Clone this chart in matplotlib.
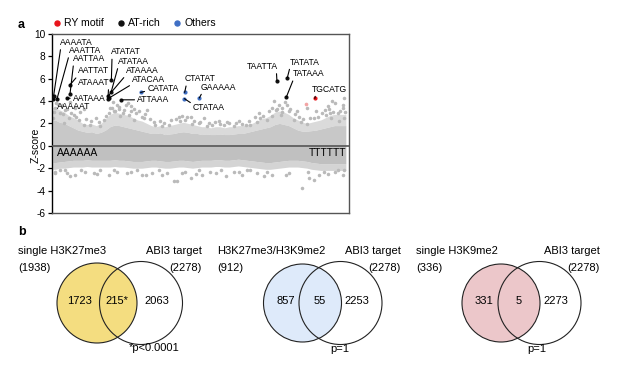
import matplotlib
matplotlib.use('Agg')
import matplotlib.pyplot as plt
from matplotlib.patches import Circle
from matplotlib.lines import Line2D

plt.rcParams['font.family'] = ['Liberation Sans', 'DejaVu Sans']
plt.rcParams['axes.unicode_minus'] = False

# ---------------- data: panel a ----------------
# hexamer cloud density envelope, read per 64-hexamer bin
band_idx = [0, 32, 96, 160, 224, 288, 352, 416, 480, 544, 608, 672, 736, 800, 864, 928, 992,
            1056, 1120, 1184, 1248, 1312, 1376, 1440, 1504, 1568, 1632, 1696, 1760, 1824,
            1888, 1952, 2016, 2080, 2144, 2208, 2272, 2336, 2400, 2464, 2528, 2592, 2656,
            2720, 2784, 2848, 2912, 2976, 3040, 3104, 3168, 3232, 3296, 3360, 3424, 3488,
            3552, 3616, 3680, 3744, 3808, 3872, 3936, 4000, 4064, 4095]
dense_top = [2.3, 2.3, 2.1, 2.0, 1.8, 1.6, 1.4, 1.3, 1.2, 1.25, 1.1, 1.2, 1.4, 1.7, 1.85, 1.8,
             1.7, 1.6, 1.5, 1.4, 1.3, 1.2, 1.1, 1.1, 1.15, 1.0, 1.05, 1.1, 1.2, 1.25, 1.2, 1.1,
             1.1, 1.0, 1.05, 1.0, 1.0, 1.05, 1.0, 1.0, 1.05, 1.1, 1.1, 1.2, 1.3, 1.4, 1.5,
             1.6, 1.7, 1.9, 2.0, 1.9, 1.8, 1.6, 1.4, 1.3, 1.3, 1.35, 1.4, 1.5, 1.6, 1.7,
             1.8, 1.8, 1.8, 1.8]
sparse_top = [3.4, 3.4, 3.2, 3.0, 2.7, 2.5, 2.3, 2.0, 1.9, 1.95, 1.8, 2.0, 2.4, 2.8, 3.0,
              2.9, 2.8, 2.7, 2.5, 2.3, 2.2, 2.0, 1.8, 1.7, 1.8, 1.7, 1.8, 1.9, 2.0, 2.1, 2.0,
              1.9, 1.8, 1.7, 1.7, 1.6, 1.7, 1.7, 1.6, 1.7, 1.7, 1.8, 1.8, 1.9, 2.0, 2.2, 2.4,
              2.5, 2.7, 3.0, 3.1, 3.0, 2.8, 2.5, 2.3, 2.1, 2.0, 2.1, 2.2, 2.3, 2.5, 2.7, 2.8,
              2.8, 2.8, 2.8]
dense_bot = [-1.5, -1.5, -1.45, -1.4, -1.35, -1.3, -1.3, -1.3, -1.25, -1.3, -1.3, -1.3, -1.3,
             -1.3, -1.25, -1.3, -1.3, -1.35, -1.4, -1.4, -1.4, -1.35, -1.3, -1.3, -1.35,
             -1.4, -1.4, -1.35, -1.3, -1.3, -1.35, -1.4, -1.35, -1.3, -1.3, -1.3, -1.25,
             -1.25, -1.3, -1.3, -1.25, -1.2, -1.25, -1.3, -1.35, -1.4, -1.45, -1.5, -1.5,
             -1.45, -1.4, -1.35, -1.3, -1.3, -1.3, -1.35, -1.4, -1.5, -1.55, -1.6, -1.6,
             -1.6, -1.6, -1.6, -1.6, -1.6]
sparse_bot = [-2.1, -2.1, -2.0, -2.0, -1.95, -1.9, -1.9, -1.9, -1.85, -1.9, -1.9, -1.9, -1.9,
              -1.9, -1.85, -1.9, -1.9, -1.95, -2.0, -2.0, -2.0, -1.95, -1.9, -1.9, -1.95,
              -2.0, -2.0, -1.95, -1.9, -1.9, -1.95, -2.0, -1.95, -1.9, -1.9, -1.9, -1.85,
              -1.85, -1.9, -1.9, -1.85, -1.8, -1.85, -1.9, -1.95, -2.0, -2.05, -2.1, -2.1,
              -2.05, -2.0, -1.95, -1.9, -1.9, -1.9, -1.95, -2.0, -2.1, -2.15, -2.2, -2.2,
              -2.2, -2.2, -2.2, -2.2, -2.2]

# individual hexamers outside / at the edge of the band
bg_idx = [34, 104, 174, 10, 220, 150, 290, 360, 431, 525, 665, 712, 782, 830, 876, 946, 993,
          1063, 1133, 1203, 1273, 1321, 1087, 900, 48, 132, 244, 315, 441, 848, 932, 1045, 1129,
          104, 244, 315, 455, 571, 665, 782, 900, 1040, 1181, 1297, 34, 174,
          1807, 1877, 1925, 2112, 1433, 1620, 1784, 2041, 2228, 2322, 2463, 2603, 2697, 1526,
          1947, 2158, 2392, 2533,
          1386, 1526, 1690, 1737, 1807, 1925, 2041, 2088, 2276, 2416, 2533, 2649, 2720, 1480,
          3090, 3160, 3113, 3207, 3277, 3301, 3183, 3066, 2996, 2902, 2856, 2762, 3371, 3464,
          3558, 3652, 3674, 3839, 3815, 3885, 3979, 4049, 4073, 4003, 3417, 3558, 4073, 3895,
          4059, 3871,
          2762, 2950, 3066, 3253, 3488, 3582, 3652, 3792, 3979, 4073, 3722,
          20, 80, 140, 200, 260, 330, 380, 470, 540, 600, 650,
          740, 800, 860, 920, 980, 1020, 1100, 1160, 1240, 1290, 1360,
          1420, 1500, 1560, 1650, 1720, 1760, 1850, 1980, 2060,
          2180, 2260, 2340, 2440, 2560, 2640, 2740,
          2820, 2880, 2940, 3020, 3060, 3140, 3200, 3240, 3320, 3380, 3440, 3500,
          3600, 3700, 3760, 3800, 3860, 3920, 3950, 4020, 4080,
          30, 200, 400, 620, 850, 1100, 1250, 1600, 1850, 2000, 2200, 2350, 2600, 2850, 3000,
          3300, 3560, 3850, 3950, 4060]
bg_z = [3.36, 2.92, 3.21, 2.47, 2.47, 2.02, 2.77, 2.32, 1.83, 1.87, 1.78, 2.32, 2.92, 3.36, 3.07,
        2.62, 3.21, 2.77, 2.32, 3.07, 2.47, 3.21, 3.51, 3.66, 3.8, 3.6, 3.9, 3.4, 3.3, 3.9, 3.5,
        3.8, 3.3,
        -2.15, -2.74, -2.59, -2.3, -2.45, -2.15, -2.59, -2.3, -2.45, -2.15, -2.59, -2.45, -2.2,
        2.62, 2.53, 2.53, 2.47, 1.83, 1.87, 2.17, 2.02, 1.87, 2.17, 2.02, 2.17, 1.83, 1.78,
        1.93, 1.78, 1.83, 1.78,
        -2.45, -2.59, -3.13, -3.13, -2.45, -2.9, -2.15, -2.59, -2.45, -2.74, -2.3, -2.59, -2.15,
        -2.15,
        3.96, 3.66, 3.21, 3.36, 3.66, 3.07, 2.77, 2.62, 2.32, 2.47, 2.12, 1.88, 2.32, 2.12,
        1.97, 2.47, 3.07, 3.51, 2.77, 2.47, 2.92, 3.36, 2.52, 2.22, 3.07, 3.36, 4.25, 4.0,
        3.66, 2.9,
        -2.15, -2.74, -2.59, -2.59, -3.78, -2.9, -3.04, -2.3, -2.15, -2.15, -2.59,
        3.0, 3.7, 2.8, 3.3, 2.9, 2.6, 3.0, 2.4, 2.2, 2.5, 2.1,
        2.7, 3.4, 3.1, 3.3, 2.9, 3.6, 3.1, 2.9, 2.6, 2.8, 2.4,
        2.1, 2.2, 2.0, 2.3, 2.4, 2.6, 2.3, 2.2, 2.1,
        2.0, 2.1, 1.95, 2.1, 2.0, 1.9, 2.2,
        2.6, 2.9, 2.7, 3.1, 3.4, 3.3, 3.0, 3.9, 3.3, 2.8, 2.6, 2.4,
        2.5, 2.6, 2.9, 3.2, 3.3, 3.0, 3.8, 3.1, 3.0,
        -2.3, -2.4, -2.2, -2.5, -2.2, -2.3, -2.6, -2.4, -2.3, -2.5, -2.3, -2.2, -2.3, -2.4,
        -2.3, -2.4, -2.3, -2.5, -2.35, -2.6]

# highlighted hexamers
motif_names = ['AAAAAT', 'AAAATA', 'AAATTA', 'AATTAA', 'AATTAT', 'AATAAA', 'ATAAAT',
               'ATATAT', 'ATATAA', 'ATAAAA', 'ATACAA', 'ATTAAA', 'CATATA', 'CTATAT',
               'CTATAA', 'GAAAAA', 'TAATTA', 'TATATA', 'TATAAA', 'TGCATG']
motif_idx = [3, 12, 60, 240, 243, 192, 771, 819, 816, 768, 784, 960, 1228, 1843, 1840,
             2048, 3132, 3276, 3264, 3662]
motif_z = [4.2, 4.46, 4.2, 4.58, 5.45, 4.26, 4.15, 5.9, 4.8, 4.4, 4.25, 4.1, 4.76, 4.76,
           4.2, 4.26, 5.8, 6.04, 4.35, 4.22]
motif_class = ['AT-rich'] * 12 + ['Others'] * 4 + ['AT-rich'] * 3 + ['RY motif']
faint_ry_idx = [3540]
faint_ry_z = [3.75]

class_colors = {'RY motif': '#e8141b', 'AT-rich': '#111111', 'Others': '#3f6fc4'}

# ---------------- data: panel b ----------------
venn_left_labels = ['single H3K27me3', 'H3K27me3/H3K9me2', 'single H3K9me2']
venn_left_totals = [1938, 912, 336]
venn_right_label = 'ABI3 target'
venn_right_total = 2278
venn_only_left = [1723, 857, 331]
venn_overlap = [215, 55, 5]
venn_overlap_mark = ['*', '', '']
venn_only_right = [2063, 2253, 2273]
venn_pvalues = ['*p<0.0001', 'p=1', 'p=1']
venn_colors = ['#f4dd80', '#deeafa', '#ecc7ca']

# ---------------- figure ----------------
W, H = 617, 372
fig = plt.figure(figsize=(W / 100, H / 100), dpi=100)

ax = fig.add_axes([51.7 / W, 1 - 213 / H, (348.7 - 51.7) / W, (213 - 33.7) / H])
ax.set_xlim(-15, 4135)
ax.set_ylim(-6, 10)

ax.fill_between(band_idx, dense_top, sparse_top, color='#dadada', lw=0, zorder=1)
ax.fill_between(band_idx, 0, dense_top, color='#c8c8c8', lw=0, zorder=1)
ax.fill_between(band_idx, sparse_bot, dense_bot, color='#d4d4d4', lw=0, zorder=1)
ax.fill_between(band_idx, dense_bot, 0, color='#c0c0c0', lw=0, zorder=1)
ax.scatter(bg_idx, bg_z, s=6.5, color='#bababa', lw=0, zorder=2)
ax.axhline(0, color='#555555', lw=1.2, zorder=3)

ax.scatter(faint_ry_idx, faint_ry_z, s=7, color='#f3a4a4', lw=0, zorder=4)
for n, xi, zi, c in zip(motif_names, motif_idx, motif_z, motif_class):
    ax.scatter([xi], [zi], s=9, color=class_colors[c], lw=0, zorder=6)

# label placement (text left / centre in data units, line start on text box)
label_pos = {
    'AAAATA': (104, 9.22, (0.02, 0.0)),
    'AAATTA': (220, 8.5, (0.02, 0.0)),
    'AATTAA': (282, 7.77, (0.02, 0.0)),
    'AATTAT': (347, 6.7, (0.02, 0.0)),
    'ATAAAT': (347, 5.65, (0.98, 0.0)),
    'AATAAA': (282, 4.22, (0.0, 0.5)),
    'AAAAAT': (58, 3.5, (0.0, 0.9)),
    'ATATAT': (820, 8.37, (0.02, 0.0)),
    'ATATAA': (908, 7.53, (0.02, 0.0)),
    'ATAAAA': (1016, 6.73, (0.02, 0.0)),
    'ATACAA': (1111, 5.95, (0.02, 0.0)),
    'ATTAAA': (1181, 4.1, (0.0, 0.5)),
    'CATATA': (1321, 5.15, (0.0, 0.2)),
    'CTATAT': (1849, 5.98, (0.05, 0.0)),
    'CTATAA': (1961, 3.45, (0.0, 0.8)),
    'GAAAAA': (2070, 5.24, (0.05, 0.0)),
    'TAATTA': (2711, 7.08, (0.95, 0.0)),
    'TATATA': (3309, 7.47, (0.02, 0.0)),
    'TATAAA': (3347, 6.43, (0.05, 0.0)),
    'TGCATG': (3624, 5.06, (0.1, 0.0)),
}
for n, xi, zi in zip(motif_names, motif_idx, motif_z):
    tx, tz, rp = label_pos[n]
    ax.annotate(n, xy=(xi, zi), xytext=(tx, tz), ha='left', va='center', fontsize=6.2,
                zorder=7,
                arrowprops=dict(arrowstyle='-', color='black', lw=0.8, shrinkA=0, shrinkB=0,
                                relpos=rp))

ax.text(60, -0.62, 'AAAAAA', ha='left', va='center', fontsize=7.5, zorder=7)
ax.text(4100, -0.62, 'TTTTTT', ha='right', va='center', fontsize=7.5, zorder=7)

ax.set_yticks([-6, -4, -2, 0, 2, 4, 6, 8, 10])
ax.set_xticks([])
ax.tick_params(axis='y', labelsize=7.3, length=3, width=0.9, pad=1.5, colors='black')
for s in ['top', 'right', 'bottom']:
    ax.spines[s].set_color('#555555')
    ax.spines[s].set_linewidth(1.0)
ax.spines['left'].set_color('black')
ax.spines['left'].set_linewidth(1.0)
ax.set_ylabel('Z-score', fontsize=7.5, labelpad=2)
ax.yaxis.set_label_coords(-0.036, 0.38)

handles = [Line2D([], [], marker='o', ls='', color=class_colors[k], markersize=3.6)
           for k in ['RY motif', 'AT-rich', 'Others']]
fig.legend(handles, ['RY motif', 'AT-rich', 'Others'], loc='center left',
           bbox_to_anchor=(53.5 / W, 1 - 23.5 / H), ncol=3, frameon=False, fontsize=7.6,
           handlelength=0.7, handletextpad=0.3, columnspacing=1.25, borderpad=0,
           borderaxespad=0)

fig.text(21.5 / W, 1 - 25 / H, 'a', fontsize=9, fontweight='bold', ha='center', va='center')
fig.text(21.5 / W, 1 - 232 / H, 'b', fontsize=9, fontweight='bold', ha='center', va='center')

# ---------------- panel b : Venn diagrams ----------------
ax2 = fig.add_axes([0, 0, 1, 1])
ax2.set_xlim(0, W)
ax2.set_ylim(H, 0)
ax2.set_axis_off()

left_cx = [97, 302.5, 501]
left_r = [40, 39, 39]
right_cx = [141, 340.5, 539.5]
right_r = 41.5
cy = 303
for i in range(3):
    dx = 199 * i
    ax2.add_patch(Circle((left_cx[i], cy), left_r[i], facecolor=venn_colors[i],
                         edgecolor='#222222', lw=0.8))
    ax2.add_patch(Circle((right_cx[i], cy), right_r, facecolor='none',
                         edgecolor='#222222', lw=0.8))
    ax2.text(18.3 + dx, 251, venn_left_labels[i], fontsize=8, ha='left', va='center')
    ax2.text(18.3 + dx, 268, f'({venn_left_totals[i]})', fontsize=8, ha='left', va='center')
    ax2.text(201.5 + dx, 251, venn_right_label, fontsize=8, ha='right', va='center')
    ax2.text(201.5 + dx, 268, f'({venn_right_total})', fontsize=8, ha='right', va='center')
    ax2.text(left_cx[i] - 17, 301, str(venn_only_left[i]), fontsize=8, ha='center', va='center')
    ax2.text((left_cx[i] + right_cx[i]) / 2 - 2, 301,
             f'{venn_overlap[i]}{venn_overlap_mark[i]}', fontsize=8, ha='center', va='center')
    ax2.text(right_cx[i] + 16, 301, str(venn_only_right[i]), fontsize=8, ha='center',
             va='center')

ax2.text(128.3, 348, venn_pvalues[0], fontsize=8, ha='left', va='center')
ax2.text(339.3, 349, venn_pvalues[1], fontsize=8, ha='center', va='center')
ax2.text(536.7, 349, venn_pvalues[2], fontsize=8, ha='center', va='center')

fig.savefig('out.png', dpi=100)
